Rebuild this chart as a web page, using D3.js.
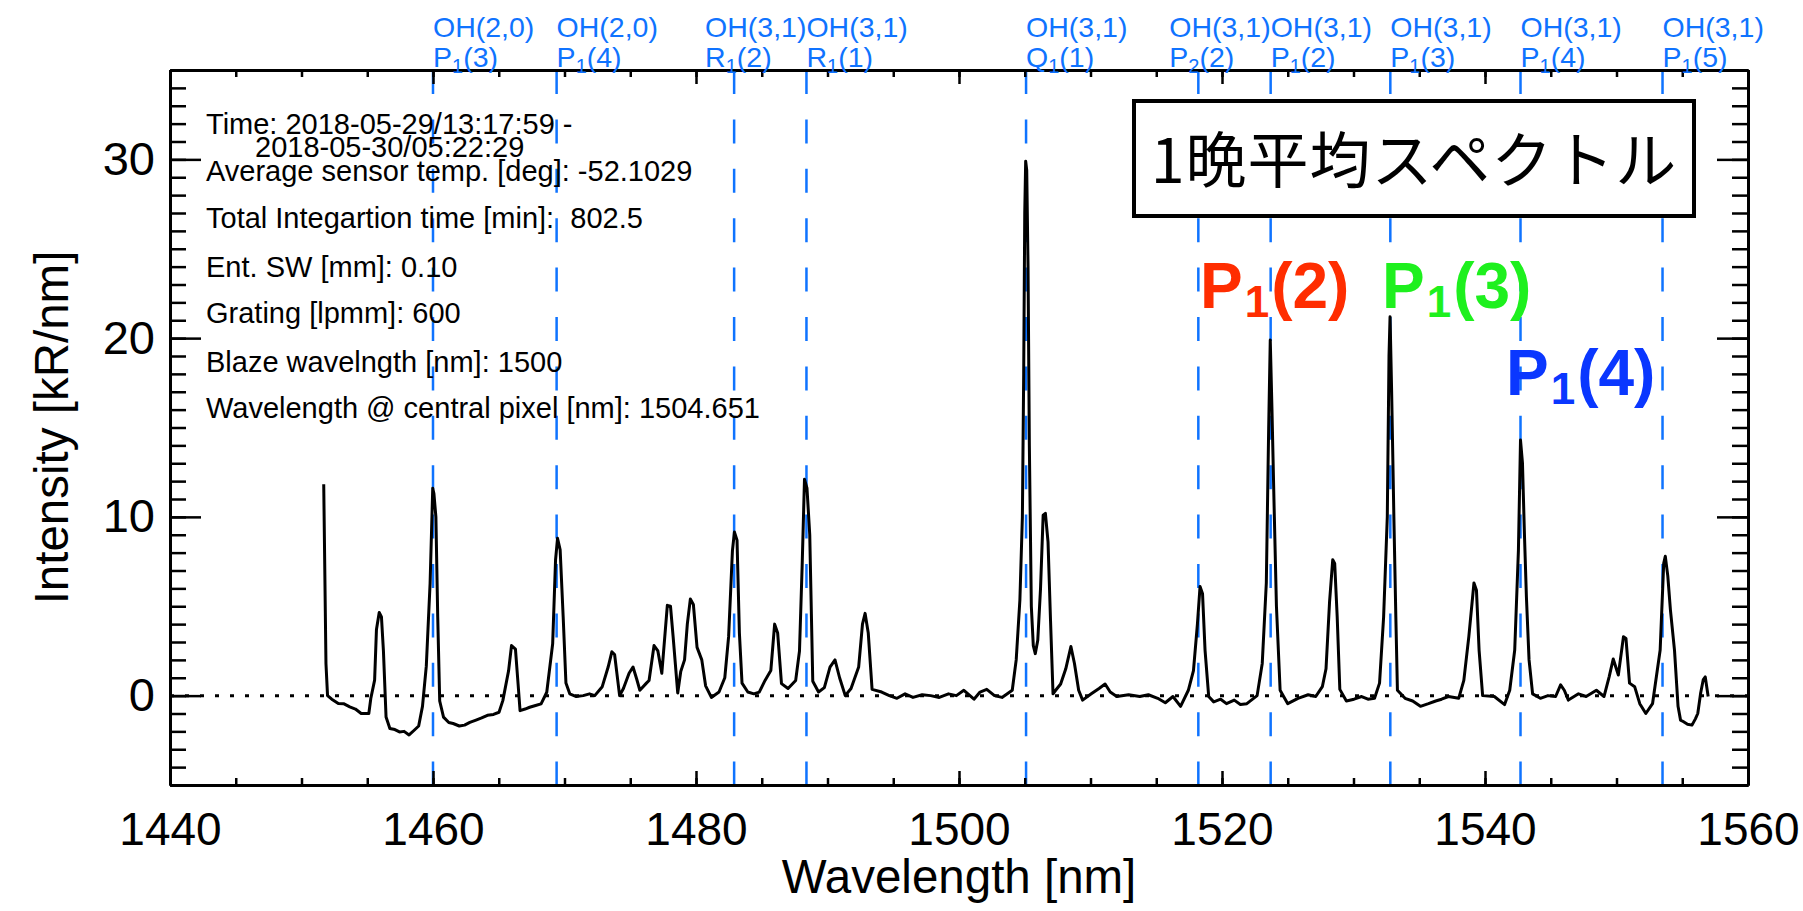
<!DOCTYPE html>
<html>
<head>
<meta charset="utf-8">
<script src="https://cdn.jsdelivr.net/npm/d3@7"></script>
<style>
  body { margin: 0; background: #fff; }
  text { font-family: "Liberation Sans", Arial, Helvetica, sans-serif; }
</style>
</head>
<body>
<svg id="chart" width="1803" height="911"></svg>
<script>
'use strict';

// spectrum (nm, kR/nm)
const wavelength = [
  1451.69, 1451.86, 1451.98, 1452.3, 1452.8, 1453.2, 1453.67, 1454.1, 1454.54, 1455.12,
  1455.27, 1455.56, 1455.70, 1455.91, 1456.08, 1456.23, 1456.43, 1456.72, 1457.1, 1457.45,
  1457.8, 1458.18, 1458.55, 1458.91, 1459.2, 1459.49, 1459.78, 1459.98, 1460.07, 1460.22,
  1460.36, 1460.51, 1460.8, 1461.2, 1461.53, 1462.0, 1462.4, 1462.8, 1463.27, 1463.7,
  1464.14, 1464.6, 1465.02, 1465.31, 1465.75, 1465.97, 1466.27, 1466.47, 1466.62, 1467.0,
  1467.35, 1467.8, 1468.22, 1468.65, 1469.1, 1469.32, 1469.47, 1469.67, 1469.9, 1470.11,
  1470.4, 1470.9, 1471.42, 1471.9, 1472.3, 1472.87, 1473.32, 1473.6, 1473.81, 1474.19,
  1474.48, 1474.91, 1475.21, 1475.5, 1475.73, 1476.23, 1476.43, 1476.81, 1477.1, 1477.4,
  1477.82, 1478.06, 1478.26, 1478.61, 1478.84, 1479.13, 1479.34, 1479.57, 1479.8, 1480.08,
  1480.44, 1480.73, 1481.17, 1481.75, 1482.19, 1482.48, 1482.77, 1482.92, 1483.12, 1483.3,
  1483.5, 1483.94, 1484.4, 1484.81, 1485.25, 1485.69, 1485.98, 1486.21, 1486.5, 1487.0,
  1487.58, 1487.87, 1488.07, 1488.25, 1488.44, 1488.65, 1488.88, 1489.32, 1489.76, 1490.19,
  1490.57, 1490.92, 1491.35, 1491.79, 1492.37, 1492.66, 1492.86, 1493.1, 1493.39, 1494.12,
  1494.7, 1495.28, 1495.9, 1496.5, 1497.2, 1497.84, 1498.5, 1499.2, 1499.8, 1500.37,
  1501.14, 1501.6, 1502.11, 1502.7, 1503.27, 1504.05, 1504.35, 1504.63, 1504.82, 1504.92,
  1505.0, 1505.07, 1505.15, 1505.25, 1505.35, 1505.5, 1505.65, 1505.8, 1505.99, 1506.2,
  1506.4, 1506.57, 1506.77, 1506.96, 1507.15, 1507.35, 1507.73, 1508.12, 1508.51, 1508.78,
  1509.1, 1509.4, 1510.06, 1510.65, 1511.11, 1511.5, 1512.0, 1512.9, 1513.75, 1514.4,
  1515.11, 1515.69, 1516.27, 1516.85, 1517.44, 1517.83, 1518.13, 1518.33, 1518.52, 1518.71,
  1518.99, 1519.37, 1519.9, 1520.34, 1520.93, 1521.4, 1521.89, 1522.67, 1523.06, 1523.37,
  1523.55, 1523.67, 1523.8, 1523.95, 1524.14, 1524.42, 1525.0, 1525.78, 1526.55, 1527.13,
  1527.63, 1527.91, 1528.18, 1528.42, 1528.57, 1528.76, 1528.96, 1529.46, 1530.04, 1530.62,
  1531.1, 1531.6, 1531.98, 1532.29, 1532.57, 1532.7, 1532.78, 1532.9, 1533.07, 1533.22,
  1533.34, 1533.92, 1534.5, 1535.09, 1535.7, 1536.25, 1536.7, 1537.22, 1538.0, 1538.39,
  1538.77, 1539.16, 1539.35, 1539.55, 1539.82, 1540.71, 1541.49, 1541.88, 1542.26, 1542.54,
  1542.7, 1542.85, 1543.0, 1543.15, 1543.35, 1543.62, 1544.21, 1544.79, 1545.37, 1545.75,
  1546.03, 1546.34, 1547.11, 1547.69, 1548.47, 1549.05, 1549.44, 1549.75, 1550.14, 1550.53,
  1550.72, 1550.99, 1551.38, 1551.77, 1552.23, 1552.74, 1553.32, 1553.59, 1553.71, 1553.9,
  1554.1, 1554.41, 1554.68, 1554.87, 1555.07, 1555.4, 1555.74, 1556.0, 1556.18, 1556.4,
  1556.6, 1556.75, 1556.97
];
const intensity = [
  11.83, 1.8, 0.0, -0.2, -0.44, -0.45, -0.63, -0.75, -1.0, -1.0,
  -0.16, 0.87, 3.7, 4.65, 4.4, 2.5, -1.2, -1.84, -1.9, -2.03,
  -2.0, -2.2, -1.95, -1.7, -0.6, 1.65, 6.3, 11.6, 11.3, 10.0,
  4.4, -0.3, -1.2, -1.5, -1.56, -1.7, -1.65, -1.5, -1.37, -1.25,
  -1.1, -1.05, -0.93, -0.28, 1.4, 2.8, 2.6, 0.65, -0.84, -0.75,
  -0.65, -0.55, -0.46, 0.19, 2.9, 7.6, 8.8, 8.15, 4.4, 0.7,
  0.1, -0.05, 0.0, 0.1, 0.0, 0.5, 1.6, 2.45, 2.3, 0.0,
  0.4, 1.25, 1.6, 0.9, 0.3, 0.7, 0.85, 2.8, 2.5, 1.25,
  5.05, 5.0, 3.3, 0.15, 1.35, 2.0, 4.0, 5.4, 5.1, 2.7,
  2.0, 0.55, -0.1, 0.2, 1.0, 3.3, 8.1, 9.15, 8.7, 3.5,
  0.7, 0.2, 0.1, 0.2, 0.85, 1.4, 4.0, 3.5, 0.67, 0.4,
  0.85, 2.5, 7.2, 12.1, 11.6, 9.0, 0.8, 0.2, 0.45, 1.6,
  2.0, 1.0, 0.0, 0.4, 1.6, 4.0, 4.6, 3.5, 0.35, 0.2,
  0.0, -0.15, 0.1, -0.1, 0.05, 0.0, -0.1, 0.1, 0.0, 0.3,
  -0.2, 0.2, 0.35, 0.0, -0.1, 0.3, 2.0, 5.35, 10.0, 18.0,
  27.0, 29.9, 29.4, 24.0, 14.0, 5.0, 2.8, 2.35, 3.1, 6.0,
  10.1, 10.2, 8.6, 4.2, 0.1, 0.3, 0.65, 1.5, 2.75, 1.8,
  0.3, -0.25, 0.1, 0.4, 0.65, 0.2, -0.05, 0.05, -0.05, 0.05,
  -0.15, -0.4, -0.05, -0.6, 0.3, 1.4, 4.0, 6.1, 5.7, 2.55,
  -0.05, -0.35, -0.2, -0.45, -0.25, -0.5, -0.45, 0.0, 1.8, 6.3,
  15.0, 19.9, 16.0, 11.0, 5.0, 0.3, -0.45, -0.15, 0.05, -0.05,
  0.5, 1.5, 5.25, 7.6, 7.4, 4.4, 0.35, -0.3, -0.2, -0.05,
  -0.2, -0.15, 0.7, 4.4, 10.0, 19.0, 21.2, 17.0, 10.0, 4.4,
  0.3, -0.15, -0.3, -0.6, -0.45, -0.3, -0.2, -0.05, -0.15, 0.85,
  3.3, 6.3, 5.9, 2.55, 0.0, -0.05, -0.5, 0.3, 2.55, 8.1,
  14.3, 13.0, 9.0, 5.5, 2.0, 0.1, -0.15, 0.0, -0.05, 0.6,
  0.3, -0.25, 0.1, -0.05, 0.3, -0.05, 1.05, 2.05, 1.15, 3.3,
  3.2, 0.7, 0.5, -0.45, -1.0, -0.45, 2.55, 7.4, 7.8, 6.7,
  4.8, 2.55, -0.6, -1.37, -1.45, -1.6, -1.65, -1.3, -1.0, 0.15,
  0.9, 1.05, -0.05
];

// OH emission lines marked at the top
const lineWl = [1460.0, 1469.4, 1482.9, 1488.4, 1505.1, 1518.2, 1523.7, 1532.8, 1542.7, 1553.5];
const lineBand = ["OH(2,0)", "OH(2,0)", "OH(3,1)", "OH(3,1)", "OH(3,1)", "OH(3,1)", "OH(3,1)", "OH(3,1)", "OH(3,1)", "OH(3,1)"];
const lineBranch = ["P", "P", "R", "R", "Q", "P", "P", "P", "P", "P"];
const lineSub = ["1", "1", "1", "1", "1", "2", "1", "1", "1", "1"];
const lineJ = ["(3)", "(4)", "(2)", "(1)", "(1)", "(2)", "(2)", "(3)", "(4)", "(5)"];

// highlighted P1 lines
const highlightJ = ["(2)", "(3)", "(4)"];

const xMajor = [1440, 1460, 1480, 1500, 1520, 1540, 1560];
const xMinor = d3.range(1440, 1561, 5);
const yMajor = [0, 10, 20, 30];
const yMinor = d3.range(-5, 36, 1);

const infoLines = [
  "Time: 2018-05-29/13:17:59 -",
  "2018-05-30/05:22:29",
  "Average sensor temp. [deg]: -52.1029",
  "Total Integartion time [min]:  802.5",
  "Ent. SW [mm]: 0.10",
  "Grating [lpmm]: 600",
  "Blaze wavelngth [nm]: 1500",
  "Wavelength @ central pixel [nm]: 1504.651"
];
const titleText = "1晩平均スペクトル";
const xTitle = "Wavelength [nm]";
const yTitle = "Intensity [kR/nm]";

function drawChart() {
  const left = 170, right = 1748, top = 70, bottom = 785;
  const blue = "#0f73ff";
  const svg = d3.select("#chart");

  const x = d3.scaleLinear().domain([1440, 1560]).range([left, right]);
  const y = d3.scaleLinear().domain([-5, 35]).range([bottom, top]);

  // dashed OH line markers
  svg.append("g")
    .selectAll("line")
    .data(lineWl)
    .enter()
    .append("line")
    .attr("x1", d => x(d)).attr("x2", d => x(d))
    .attr("y1", top).attr("y2", bottom)
    .style("stroke", blue)
    .style("stroke-width", 2.5)
    .style("stroke-dasharray", "24,25.4");

  // zero line
  svg.append("line")
    .attr("x1", x(1440)).attr("x2", x(1560))
    .attr("y1", y(0)).attr("y2", y(0))
    .style("stroke", "#000")
    .style("stroke-width", 3)
    .style("stroke-dasharray", "4,11");

  // spectrum
  const pts = wavelength.map((w, i) => [w, intensity[i]]);
  svg.append("path")
    .datum(pts)
    .attr("d", d3.line().x(d => x(d[0])).y(d => y(d[1])))
    .style("fill", "none")
    .style("stroke", "#000")
    .style("stroke-width", 3)
    .style("stroke-linejoin", "round");

  // axes, ticks pointing inward
  function styleAxis(g) {
    g.select(".domain").style("stroke", "#000").style("stroke-width", 3);
    g.selectAll(".tick line").style("stroke", "#000").style("stroke-width", 2.5);
    g.selectAll(".tick text").style("fill", "#000").style("font-family", "Liberation Sans, Arial, sans-serif");
  }

  svg.append("g").attr("transform", `translate(0,${bottom})`)
    .call(d3.axisBottom(x).tickValues(xMinor).tickSize(-7).tickSizeOuter(0).tickFormat(""))
    .call(styleAxis);
  svg.append("g").attr("transform", `translate(0,${bottom})`)
    .call(d3.axisBottom(x).tickValues(xMajor).tickSize(-14).tickSizeOuter(0).tickPadding(27).tickFormat(d3.format("d")))
    .call(styleAxis)
    .selectAll("text").style("font-size", "46px");

  svg.append("g").attr("transform", `translate(0,${top})`)
    .call(d3.axisTop(x).tickValues(xMinor).tickSize(-7).tickSizeOuter(0).tickFormat(""))
    .call(styleAxis);
  svg.append("g").attr("transform", `translate(0,${top})`)
    .call(d3.axisTop(x).tickValues(xMajor).tickSize(-14).tickSizeOuter(0).tickFormat(""))
    .call(styleAxis);

  svg.append("g").attr("transform", `translate(${left},0)`)
    .call(d3.axisLeft(y).tickValues(yMinor).tickSize(-16).tickSizeOuter(0).tickFormat(""))
    .call(styleAxis);
  svg.append("g").attr("transform", `translate(${left},0)`)
    .call(d3.axisLeft(y).tickValues(yMajor).tickSize(-31).tickSizeOuter(0).tickPadding(15).tickFormat(d3.format("d")))
    .call(styleAxis)
    .selectAll("text").style("font-size", "47px");

  svg.append("g").attr("transform", `translate(${right},0)`)
    .call(d3.axisRight(y).tickValues(yMinor).tickSize(-16).tickSizeOuter(0).tickFormat(""))
    .call(styleAxis);
  svg.append("g").attr("transform", `translate(${right},0)`)
    .call(d3.axisRight(y).tickValues(yMajor).tickSize(-31).tickSizeOuter(0).tickFormat(""))
    .call(styleAxis);

  // axis titles
  svg.append("text")
    .attr("x", (left + right) / 2).attr("y", 893)
    .style("text-anchor", "middle")
    .style("font-size", "47.5px")
    .text(xTitle);
  svg.append("text")
    .attr("transform", `translate(68,${(top + bottom) / 2}) rotate(-90)`)
    .style("text-anchor", "middle")
    .style("font-size", "47.5px")
    .text(yTitle);

  // line labels above the frame; a label that would run over the next
  // line is pulled left so it ends at that line
  const lab = svg.append("g").selectAll("g")
    .data(lineWl)
    .enter()
    .append("g")
    .style("fill", blue)
    .style("font-size", "28.5px");
  lab.append("text")
    .attr("class", "band")
    .attr("y", 37)
    .text((d, i) => lineBand[i]);
  const l2 = lab.append("text")
    .attr("class", "branch")
    .attr("y", 67);
  l2.append("tspan").text((d, i) => lineBranch[i]);
  l2.append("tspan").attr("dy", 6).style("font-size", "20px").text((d, i) => lineSub[i]);
  l2.append("tspan").attr("dy", -6).text((d, i) => lineJ[i]);

  lab.each(function (d, i) {
    const g = d3.select(this);
    const w = g.select(".band").node().getComputedTextLength();
    let lx = x(d);
    if (i < lineWl.length - 1 && lx + w > x(lineWl[i + 1])) {
      lx = x(lineWl[i + 1]) - w;
    }
    g.selectAll("text").attr("x", lx);
  });

  // info text block
  const infoY = [134, 157, 181, 228, 277, 323, 372, 418];
  svg.append("g")
    .selectAll("text")
    .data(infoLines)
    .enter()
    .append("text")
    .attr("x", (d, i) => i === 1 ? 255 : 206)
    .attr("y", (d, i) => infoY[i])
    .style("font-size", "29px")
    .style("white-space", "pre")
    .text(d => d);

  // title box
  svg.append("rect")
    .attr("x", 1134).attr("y", 101)
    .attr("width", 560).attr("height", 115)
    .style("fill", "#fff")
    .style("stroke", "#000")
    .style("stroke-width", 4);
  svg.append("text")
    .attr("x", 1414).attr("y", 183)
    .style("text-anchor", "middle")
    .style("font-family", "'Noto Sans CJK JP', sans-serif")
    .style("font-size", "61px")
    .style("letter-spacing", "1px")
    .text(titleText);

  // coloured P1 labels
  const hlColor = ["#ff2d00", "#1ef01e", "#0a37ff"];
  const hlPos = [[1518.33, 21.7], [1532.17, 21.7], [1541.6, 16.8]];
  const hl = svg.append("g")
    .selectAll("text")
    .data(highlightJ)
    .enter()
    .append("text")
    .attr("x", (d, i) => x(hlPos[i][0]))
    .attr("y", (d, i) => y(hlPos[i][1]))
    .style("fill", (d, i) => hlColor[i])
    .style("font-weight", "bold")
    .style("font-size", "64px");
  hl.append("tspan").text("P");
  hl.append("tspan").attr("dx", 2).attr("dy", 9).style("font-size", "44px").text("1");
  hl.append("tspan").attr("dx", 2).attr("dy", -9).text(d => d);
}

drawChart();
</script>
</body>
</html>
